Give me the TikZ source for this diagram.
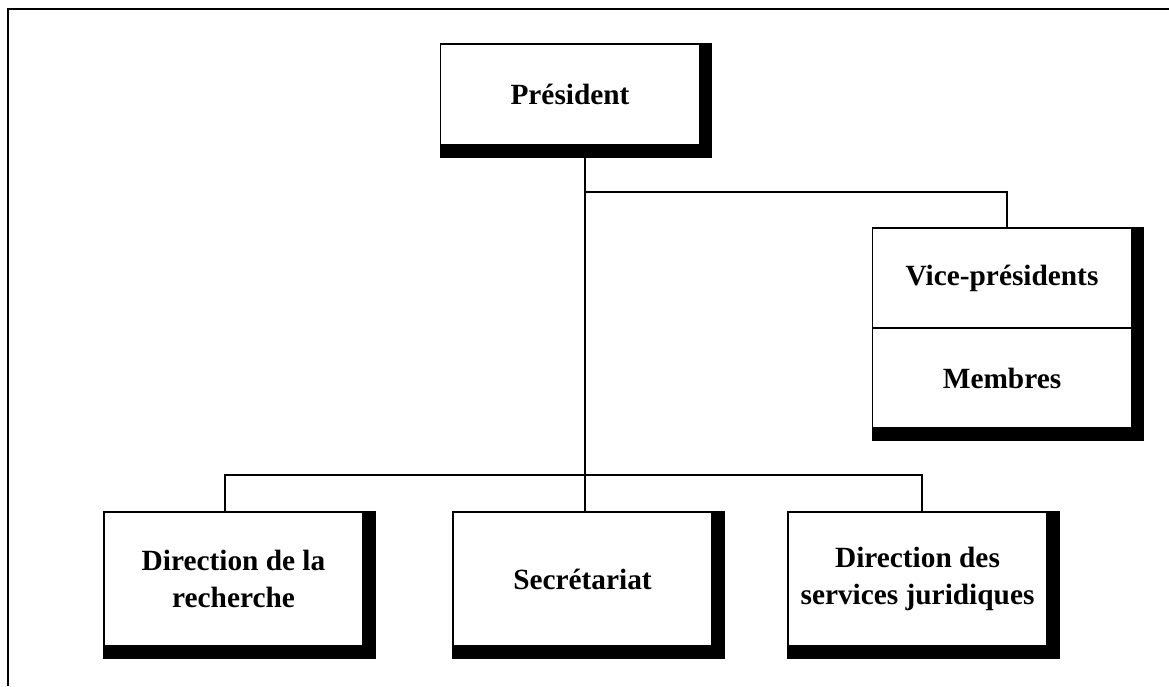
\documentclass[tikz,border=0pt]{standalone}
\usepackage{fontspec}
\setmainfont{Liberation Serif}
\usetikzlibrary{backgrounds,calc}
\begin{document}
\begin{tikzpicture}[x=0.75pt,y=-0.75pt,
  orgbox/.style={draw=black,line width=0.8pt,fill=white,inner sep=0pt,
    minimum width=194.25pt,minimum height=100.5pt,align=center,
    font=\fontsize{22}{27.75}\selectfont\bfseries},
  link/.style={draw=black,line width=0.8pt},
  shade/.style={fill=black}]
\useasboundingbox (0,0) rectangle (1169,686);
% frame
\draw[line width=1pt] (8,686) -- (8,9) -- (1169,9);
% boxes
\node[orgbox,minimum height=75.75pt] (pres) at (570,94.5) {Président};
\node[orgbox,minimum height=75pt] (vp) at (1002,278) {Vice-présidents};
\node[orgbox,minimum height=75pt] (mem) at (1002,378) {Membres};
\node[orgbox] (b1) at (233.5,579) {Direction de la\\recherche};
\node[orgbox] (b2) at (582.5,579) {Secrétariat};
\node[orgbox] (b3) at (917.5,579) {Direction des\\services juridiques};
% shadows
\begin{scope}[on background layer]
\fill[shade] (pres.north west) rectangle ($(pres.south east)+(12,12)$);
\fill[shade] (vp.north west) rectangle ($(mem.south east)+(12,12)$);
\fill[shade] (b1.north west) rectangle ($(b1.south east)+(12,12)$);
\fill[shade] (b2.north west) rectangle ($(b2.south east)+(12,12)$);
\fill[shade] (b3.north west) rectangle ($(b3.south east)+(12,12)$);
\end{scope}
% connectors
\coordinate (j1) at (585,192);
\coordinate (j2) at (585,475);
\draw[link] ($(pres.south)+(15,12)$) -- (j1) -- (j2);
\draw[link] (j1) -| ($(vp.north)+(5,0)$);
\draw[link] ($(b1.north)+(-8.5,0)$) |- (j2);
\draw[link] (j2) -| ($(b3.north)+(4.5,0)$);
\draw[link] (j2) -- (j2 |- b2.north);
\end{tikzpicture}
\end{document}
